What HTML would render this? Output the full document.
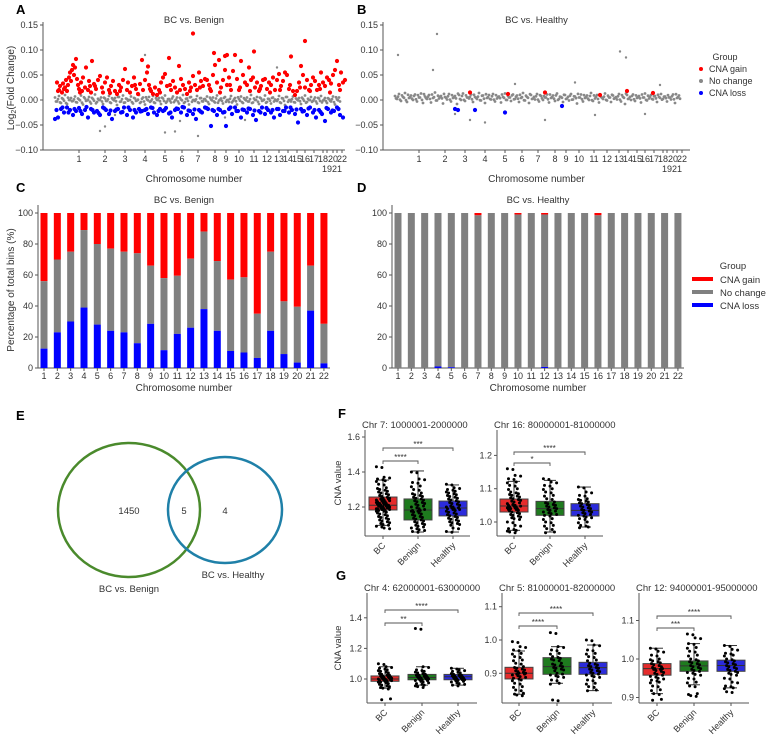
<!DOCTYPE html>
<html><head><meta charset="utf-8"><style>
html,body{margin:0;padding:0;background:#fff;}
svg{display:block;font-family:"Liberation Sans",Arial,sans-serif;}
</style></head><body>
<svg id="fig" width="778" height="739" viewBox="0 0 778 739"></svg>
<script>
// ---------- Panel A/B data (pos = genome index, value in 1/1000 log2 FC) ----------
const chrLabels = ["1","2","3","4","5","6","7","8","9","10","11","12","13","14","15","16","17","18","19","20","21","22"];
const chrCenters = [24,50,70,90,110,127,143,160,171,184,199,212,224,233,242,250,259,268,272,278,282,287];
const yTicksAB = [0.15,0.10,0.05,0.00,-0.05,-0.10];
const redA = [[2,35],[4,20],[5,28],[7,15],[8,33],[10,25],[11,40],[12,18],[13,30],[14,45],[15,55],[16,38],[17,60],[18,70],[19,50],[20,65],[21,82],[22,42],[23,30],[24,22],[26,35],[27,18],[28,45],[30,25],[31,65],[33,20],[34,38],[35,28],[36,15],[37,78],[39,32],[41,22],[43,40],[45,48],[47,25],[48,15],[50,35],[52,45],[54,20],[56,28],[58,38],[60,18],[62,12],[64,30],[66,25],[68,40],[70,62],[72,20],[73,35],[75,15],[77,28],[79,45],[81,22],[83,12],[85,32],[87,80],[88,20],[90,40],[92,55],[93,67],[94,30],[96,18],[98,12],[100,25],[102,10],[104,20],[106,35],[108,45],[110,52],[112,28],[114,84],[116,20],[118,38],[120,25],[122,15],[124,68],[126,42],[128,30],[130,22],[132,12],[134,35],[136,25],[138,48],[140,30],[142,20],[144,55],[146,38],[148,28],[150,42],[152,40],[154,30],[156,18],[158,50],[160,70],[162,35],[164,80],[166,25],[168,40],[170,60],[172,30],[174,45],[176,20],[178,58],[180,90],[182,42],[184,20],[186,78],[188,50],[190,35],[192,30],[194,65],[196,40],[198,45],[200,25],[202,35],[204,18],[206,28],[208,40],[210,42],[212,22],[214,35],[216,30],[218,45],[220,20],[222,40],[224,52],[226,28],[228,38],[230,55],[232,50],[234,22],[236,87],[238,18],[240,10],[242,18],[244,35],[246,68],[248,50],[250,25],[252,40],[254,20],[256,30],[258,45],[260,38],[262,20],[264,30],[266,55],[268,35],[270,28],[272,45],[274,40],[276,33],[278,50],[280,60],[282,78],[284,30],[286,55],[288,35],[290,40],[138,133],[250,118],[199,97],[159,94],[170,88],[172,90],[3,18],[9,22],[25,15],[40,28],[55,14],[65,18],[80,30],[95,22],[105,15],[115,30],[125,20],[135,18],[145,25],[155,22],[165,15],[175,30],[185,25],[195,18],[205,22],[215,15],[225,20],[235,30],[245,25],[255,18],[265,22],[275,15],[285,20]];
const blueA = [-38,-35,-18,-25,-15,-20,-30,-22,-16,-28,-20,-35,-18,-25,-22,-30,-15,-20,-28,-38,-22,-18,-25,-15,-30,-20,-35,-25,-18,-22,-20,-28,-15,-25,-30,-18,-22,-16,-27,-35,-20,-18,-25,-15,-30,-22,-28,-38,-20,-25,-15,-18,-52,-22,-30,-20,-25,-52,-18,-28,-15,-22,-35,-20,-25,-18,-30,-40,-22,-15,-28,-20,-25,-35,-18,-30,-22,-15,-25,-20,-28,-45,-18,-22,-30,-15,-25,-35,-20,-28,-42,-18,-25,-22,-15,-30,-35];
const blueA2 = [-20,-15,-25,-18,-22,-14,-20,-26,-17,-21,-19,-24,-15,-20,-23,-18,-16,-22,-20,-25,-17,-14,-21,-19,-23,-16,-20,-18,-24,-15,-22,-19,-17,-21,-25,-16,-20,-18,-22,-15,-19,-23,-17,-20,-24,-16,-21,-18];
const grayA = [5,-3,8,-6,2,10,-8,0,4,-2,7,-5,1,9,-9,3,-1,6,-7,2,11,-4,0,5,-8,3,-2,8,-6,1,4,-10,6,-3,9,-5,2,0,7,-7,3,-1,10,-4,5,-9,1,6,-2,8,-6,0,4,-8,3,9,-3,2,-5,7,-1,5,-7,1,10,-4,3,-9,6,0,-2,8,-6,4,-3,2,7,-8,1,5,-5,9,-1,3,-7,6,0,-4,8,-2,4,-9,2,7,-6,1,5,-3,10,-5,0,6,-8,3,-1,9,-4,2,-7,5,1,-2,8,-6,3,-10,6,0,-3,7,-5,1,4,-8,2,9,-4,0,6,-2,5,-7,3,8,-1,4,-6,2,-3,7,-9,1,5];
const grayAout = [[45,-62],[50,-53],[90,90],[110,-65],[120,-63],[143,-72],[125,-42],[222,65],[190,-40],[60,-30],[170,-35]];
const grayB = [8,2,12,-2,6,14,-4,4,9,0,11,-3,5,13,-6,7,2,10,-5,4,15,-1,3,8,-7,6,1,12,-3,4,8,-8,10,0,13,-2,5,3,11,-4,6,2,14,-1,9,-6,4,10,1,12,-3,3,7,-5,6,13,0,5,-2,11,2,9,-4,4,14,-1,6,-6,10,3,1,12,-3,8,0,5,11,-5,4,9,-2,13,2,6,-4,10,3,-1,12,1,7,-7,5,11,-3,4,9,0,14,-2,3,10,-5,6,2,13,-1,5,-4,9,4,1,12,-3,6,-8,10,3,0,11,-2,4,8,-5,5,13,-1,3,10,1,8,-4,6,12,2,7,-3,5,1,11,-6,4,9];
const grayBout = [[3,90],[38,60],[42,132],[75,-40],[90,-45],[225,97],[231,85],[150,-40],[180,35],[265,30],[200,-30],[120,32],[250,-28],[60,-28]];
const redB = [[75,15],[113,12],[150,15],[205,10],[232,18],[258,14]];
const blueB = [[60,-18],[63,-20],[80,-20],[167,-12],[110,-25]];

// ---------- Panel C/D data (percent) ----------
const chrC = ["1","2","3","4","5","6","7","8","9","10","11","12","13","14","15","16","17","18","19","20","21","22"];
const lossC = [12.5,23,30,39,28,24,23,16,28.5,11.5,22,26,38,24,11,10,6.5,24,9,3.5,37,3];
const noChangeC = [43.5,47,45,50,52,53,52,58,37.5,46.5,37.5,44.5,50,45,46,48.5,28.5,51,34,36,29,25.5];
const lossD = [0,0,0,1,0.5,0,0,0,0,0,0,0.7,0,0,0,0,0,0,0,0,0,0];
const gainD = [0,0,0,0,0,0,1.5,0,0,1,0,1,0,0,0,1.5,0,0,0,0,0,0];
const yTicksCD = [0,20,40,60,80,100];

// ---------- Panel F/G data ----------
const boxGroups = ["BC","Benign","Healthy"];
const f1Stats = [[1.095,1.183,1.21,1.257,1.354],[1.057,1.126,1.183,1.246,1.406],[1.057,1.149,1.194,1.234,1.326]];
const f1Pts = [[1.43,1.37,1.36,1.35,1.33,1.31,1.30,1.29,1.28,1.27,1.26,1.25,1.25,1.24,1.24,1.23,1.23,1.22,1.22,1.22,1.21,1.21,1.21,1.20,1.20,1.20,1.19,1.19,1.19,1.18,1.18,1.17,1.16,1.15,1.14,1.13,1.12,1.11,1.10,1.09,1.08],[1.40,1.36,1.34,1.32,1.30,1.28,1.27,1.26,1.25,1.24,1.23,1.22,1.21,1.20,1.19,1.18,1.18,1.17,1.16,1.15,1.14,1.13,1.12,1.11,1.10,1.09,1.08,1.07,1.06],[1.33,1.31,1.30,1.29,1.28,1.27,1.26,1.25,1.24,1.23,1.22,1.21,1.20,1.20,1.19,1.19,1.18,1.17,1.16,1.15,1.14,1.13,1.12,1.11,1.10,1.08,1.06]];
const f2Stats = [[0.975,1.030,1.048,1.069,1.122],[0.970,1.020,1.040,1.062,1.125],[0.985,1.018,1.035,1.055,1.105]];
const f2Pts = [[1.16,1.14,1.13,1.12,1.11,1.10,1.09,1.085,1.08,1.075,1.07,1.065,1.06,1.055,1.05,1.05,1.045,1.045,1.04,1.04,1.035,1.03,1.025,1.02,1.015,1.01,1.0,0.99,0.98,0.975,0.97],[1.13,1.12,1.11,1.10,1.09,1.08,1.07,1.06,1.055,1.05,1.045,1.04,1.035,1.03,1.025,1.02,1.01,1.0,0.99,0.98,0.97],[1.105,1.09,1.08,1.07,1.065,1.06,1.055,1.05,1.045,1.04,1.035,1.03,1.025,1.02,1.015,1.01,1.0,0.99,0.985]];
const g1Stats = [[0.94,0.985,1.0,1.02,1.08],[0.96,0.995,1.01,1.03,1.08],[0.96,0.995,1.015,1.03,1.07]];
const g1Pts = [[1.10,1.08,1.07,1.06,1.05,1.04,1.03,1.025,1.02,1.015,1.01,1.005,1.0,1.0,0.995,0.99,0.985,0.98,0.97,0.96,0.95,0.94,0.87],[1.33,1.08,1.06,1.05,1.04,1.03,1.025,1.02,1.015,1.01,1.005,1.0,0.995,0.99,0.98,0.97,0.96,0.95],[1.07,1.06,1.05,1.04,1.03,1.025,1.02,1.015,1.01,1.005,1.0,0.995,0.99,0.98,0.97,0.96]];
const g2Stats = [[0.837,0.883,0.9,0.918,0.967],[0.87,0.897,0.92,0.947,0.98],[0.848,0.897,0.917,0.933,0.985]];
const g2Pts = [[0.995,0.98,0.97,0.96,0.95,0.94,0.93,0.92,0.915,0.91,0.905,0.9,0.9,0.895,0.89,0.885,0.88,0.87,0.86,0.85,0.84,0.835],[1.022,0.98,0.97,0.96,0.95,0.945,0.94,0.93,0.925,0.92,0.915,0.91,0.9,0.895,0.89,0.88,0.87,0.82],[1.0,0.985,0.97,0.96,0.95,0.94,0.93,0.925,0.92,0.915,0.91,0.905,0.9,0.895,0.89,0.88,0.87,0.86,0.85]];
const g3Stats = [[0.91,0.958,0.975,0.988,1.028],[0.933,0.968,0.982,0.995,1.04],[0.925,0.968,0.983,0.997,1.035]];
const g3Pts = [[1.028,1.02,1.01,1.0,0.995,0.99,0.985,0.98,0.975,0.975,0.97,0.965,0.96,0.955,0.95,0.945,0.94,0.93,0.92,0.91,0.895],[1.065,1.055,1.04,1.03,1.02,1.01,1.0,0.995,0.99,0.985,0.98,0.975,0.97,0.965,0.96,0.95,0.94,0.93,0.91,0.905],[1.035,1.025,1.015,1.01,1.0,0.995,0.99,0.985,0.98,0.975,0.97,0.965,0.96,0.95,0.94,0.93,0.925,0.915]];

const NS = "http://www.w3.org/2000/svg";
const svg = document.getElementById("fig");
const TXT = "#333", AX = "#555";
function mk(tag, attrs, name, parent){
  const el = document.createElementNS(NS, tag);
  for (const k in attrs) el.setAttribute(k, attrs[k]);
  
  
  (parent||svg).appendChild(el);
  return el;
}
function txt(x,y,s,size,anchor,name,extra){
  const a = {x:x,y:y,'font-size':size,'text-anchor':anchor||'middle',fill:TXT};
  if (extra) for (const k in extra) a[k]=extra[k];
  const t = mk('text', a, name);
  t.textContent = s;
  return t;
}
function ln(x1,y1,x2,y2,c,w,name){ return mk('line',{x1:x1,y1:y1,x2:x2,y2:y2,stroke:c,'stroke-width':w},name); }
function fmt(v,d){ const s=Math.abs(v).toFixed(d); return (v<0?"\u2212":"")+s; }

// panel letters
[["A",16,14],["B",357,14],["C",16,192],["D",357,192],["E",16,420],["F",338,418],["G",336,580]].forEach(p=>{
  txt(p[1],p[2],p[0],13,'start','panel-label-'+p[0].toLowerCase(),{'font-weight':'bold',fill:'#000'});
});

// ---------- Manhattan panels ----------
function manhattan(ox, axRight, title, key, reds, blues, blues2, grays, grayOut, isB){
  const yS = v => 100 - v*500;
  const xS = p => ox + 12 + p;
  ln(ox,22,ox,150,AX,1,key+'-y-axis');
  ln(ox,150,axRight,150,AX,1,key+'-x-axis');
  yTicksAB.forEach(t=>{
    ln(ox-3,yS(t),ox,yS(t),AX,1,key+'-y-tick');
    txt(ox-5,yS(t)+3,fmt(t,2),9,'end',key+'-y-tick-label');
  });
  chrLabels.forEach((c,i)=>{
    const x = xS(chrCenters[i]);
    ln(x,150,x,153,AX,1,key+'-x-tick');
    const second = (c==="19"||c==="21");
    txt(x,second?172:162,c,9,'middle',key+'-x-tick-label');
  });
  txt(ox+(axRight-ox)/2,23,title,9.5,'middle',key+'-title');
  txt(ox+(axRight-ox)/2,182,"Chromosome number",10,'middle',key+'-x-axis-title');
  grays.forEach((v,i)=>{ const p=i*2; mk('circle',{cx:xS(p),cy:yS(v/1000),r:1.4,fill:'#888'},key+'-point-nochange'); });
  grays.forEach((v,i)=>{ const p=i*2+1; mk('circle',{cx:xS(p),cy:yS((-v*0.6+ (isB?8:0))/1000),r:1.4,fill:'#888'},key+'-point-nochange'); });
  grayOut.forEach(d=>{ mk('circle',{cx:xS(d[0]),cy:yS(d[1]/1000),r:1.2,fill:'#888'},key+'-point-nochange'); });
  blues.forEach((v,i)=>{ mk('circle',{cx:xS(i*3),cy:yS(v/1000),r:2.1,fill:'#0000ff'},key+'-point-loss'); });
  blues2.forEach((v,i)=>{ mk('circle',{cx:xS(i*6+1.5),cy:yS(v/1000),r:2.1,fill:'#0000ff'},key+'-point-loss'); });
  reds.forEach(d=>{ mk('circle',{cx:xS(d[0]),cy:yS(d[1]/1000),r:2.1,fill:'#ff0000'},key+'-point-gain'); });
}
manhattan(43,345,"BC vs. Benign","panel-a",redA,blueA,blueA2,grayA,grayAout,false);
{
  const t = mk('text',{x:0,y:0,'font-size':10,'text-anchor':'middle',fill:TXT,transform:'translate(14,88) rotate(-90)'},'panel-a-y-axis-title');
  t.innerHTML = 'Log<tspan font-size="7" dy="2">2</tspan><tspan dy="-2">(Fold Change)</tspan>';
}
manhattan(383,690,"BC vs. Healthy","panel-b",[],[],[],grayB,grayBout,true);
blueB.forEach(d=>{ mk('circle',{cx:395+d[0],cy:100-d[1]/2,r:2.1,fill:'#0000ff'},'panel-b-point-loss'); });
redB.forEach(d=>{ mk('circle',{cx:395+d[0],cy:100-d[1]/2,r:2.1,fill:'#ff0000'},'panel-b-point-gain'); });
txt(725,60,"Group",9,'middle','legend-ab-title');
[["CNA gain","#ff0000",72],["No change","#888",84],["CNA loss","#0000ff",96]].forEach(l=>{
  mk('circle',{cx:701,cy:l[2]-3,r:2,fill:l[1]},'legend-ab-marker');
  txt(709,l[2],l[0],9,'start','legend-ab-entry');
});

// ---------- stacked bars ----------
function stacked(ox, axRight, x0, title, key, loss, nochg){
  const yS = v => 368 - v*1.55;
  const xS = i => x0 + i*13.33;
  ln(ox,205,ox,368,AX,1,key+'-y-axis');
  ln(ox,368,axRight,368,AX,1,key+'-x-axis');
  yTicksCD.forEach(t=>{
    ln(ox-3,yS(t),ox,yS(t),AX,1,key+'-y-tick');
    txt(ox-5,yS(t)+3,String(t),9,'end',key+'-y-tick-label');
  });
  chrC.forEach((c,i)=>{
    const x=xS(i), l=loss[i], n=nochg[i];
    mk('rect',{x:x-3.5,y:yS(100),width:7,height:yS(l+n)-yS(100),fill:'#ff0000'},key+'-bar-gain-'+c);
    mk('rect',{x:x-3.5,y:yS(l+n),width:7,height:yS(l)-yS(l+n),fill:'#808080'},key+'-bar-nochange-'+c);
    mk('rect',{x:x-3.5,y:yS(l),width:7,height:yS(0)-yS(l),fill:'#0000ff'},key+'-bar-loss-'+c);
    ln(x,368,x,371,AX,1,key+'-x-tick');
    txt(x,379,c,9,'middle',key+'-x-tick-label');
  });
  txt(ox+(axRight-ox)/2,203,title,9.5,'middle',key+'-title');
  txt(ox+(axRight-ox)/2,391,"Chromosome number",10,'middle',key+'-x-axis-title');
}
stacked(38,330,44,"BC vs. Benign","panel-c",lossC,noChangeC);
stacked(392,684,398,"BC vs. Healthy","panel-d",lossD,lossD.map((l,i)=>100-l-gainD[i]));
mk('text',{x:0,y:0,'font-size':10,'text-anchor':'middle',fill:TXT,transform:'translate(14,290) rotate(-90)'},'panel-c-y-axis-title').textContent="Percentage of total bins (%)";
txt(733,269,"Group",9.5,'middle','legend-cd-title');
[["CNA gain","#ff0000",279],["No change","#808080",292],["CNA loss","#0000ff",305]].forEach(l=>{
  ln(692,l[2],713,l[2],l[1],4,'legend-cd-swatch');
  txt(720,l[2]+4,l[0],9.5,'start','legend-cd-entry');
});

// ---------- Venn ----------
mk('ellipse',{cx:129,cy:510,rx:71,ry:67,fill:'none',stroke:'#4a8a2c','stroke-width':2.5},'venn-circle-bc-benign');
mk('ellipse',{cx:225,cy:510,rx:57,ry:53,fill:'none',stroke:'#1f80a8','stroke-width':2.5},'venn-circle-bc-healthy');
txt(129,514,"1450",9.5,'middle','venn-count-benign-only');
txt(184,514,"5",9.5,'middle','venn-count-overlap');
txt(225,514,"4",9.5,'middle','venn-count-healthy-only');
txt(129,592,"BC vs. Benign",9.5,'middle','venn-label-benign');
txt(233,578,"BC vs. Healthy",9.5,'middle','venn-label-healthy');

// ---------- box plots ----------
const boxCols = ['#e52b2b','#1e7b1e','#2b2bdc'];
function boxplot(cfg){
  const k=cfg.key;
  const yS = v => cfg.y0 - (v-cfg.v0)*cfg.ppu;
  ln(cfg.left,cfg.top,cfg.left,cfg.bottom,AX,1,k+'-y-axis');
  ln(cfg.left,cfg.bottom,cfg.right,cfg.bottom,AX,1,k+'-x-axis');
  cfg.ticks.forEach(t=>{
    ln(cfg.left-3,yS(t),cfg.left,yS(t),AX,1,k+'-y-tick');
    txt(cfg.left-5,yS(t)+3,t.toFixed(1),9,'end',k+'-y-tick-label');
  });
  txt(cfg.left-3,cfg.titleY,cfg.title,9.5,'start',k+'-title');
  boxGroups.forEach((g,i)=>{
    const x=cfg.xs[i], s=cfg.stats[i];
    ln(x,yS(s[4]),x,yS(s[0]),'#333',1,k+'-whisker-'+g.toLowerCase());
    ln(x-6,yS(s[4]),x+6,yS(s[4]),'#333',1,k+'-whisker-cap');
    ln(x-6,yS(s[0]),x+6,yS(s[0]),'#333',1,k+'-whisker-cap');
    mk('rect',{x:x-14,y:yS(s[3]),width:28,height:yS(s[1])-yS(s[3]),fill:boxCols[i],stroke:'#444','stroke-width':1},k+'-box-'+g.toLowerCase());
    ln(x-14,yS(s[2]),x+14,yS(s[2]),'#333',1,k+'-median-'+g.toLowerCase());
    cfg.pts[i].forEach((v,j)=>{
      for(let r=0;r<2;r++){
        const off=(((j*7+r*5)%13)-6)*1.1;
        mk('circle',{cx:x+off,cy:yS(v)+(r?0.8:0),r:1.5,fill:'#000'},k+'-point-'+g.toLowerCase());
      }
    });
    ln(x,cfg.bottom,x,cfg.bottom+3,AX,1,k+'-x-tick');
    mk('text',{x:x+3,y:cfg.bottom+10,'font-size':9,'text-anchor':'end',fill:TXT,transform:'rotate(-45 '+(x+3)+' '+(cfg.bottom+10)+')'},k+'-x-tick-label').textContent=g;
  });
  cfg.sigs.forEach(sg=>{
    const xa=cfg.xs[sg[0]], xb=cfg.xs[sg[1]], y=sg[2];
    mk('path',{d:'M'+xa+' '+(y+3)+'V'+y+'H'+xb+'V'+(y+3),fill:'none',stroke:'#555','stroke-width':0.9},k+'-sig-bracket');
    txt((xa+xb)/2,y-1,sg[3],8,'middle',k+'-sig-label');
  });
}
boxplot({key:'panel-f-chr7',left:365,right:470,top:430,bottom:536,v0:1.2,y0:507,ppu:175,ticks:[1.2,1.4,1.6],xs:[383,418,453],stats:f1Stats,pts:f1Pts,title:"Chr 7: 1000001-2000000",titleY:428,sigs:[[0,1,461,"****"],[0,2,448,"***"]]});
boxplot({key:'panel-f-chr16',left:497,right:603,top:430,bottom:536,v0:1.0,y0:522,ppu:333,ticks:[1.0,1.1,1.2],xs:[514,550,585],stats:f2Stats,pts:f2Pts,title:"Chr 16: 80000001-81000000",titleY:428,sigs:[[0,1,463,"*"],[0,2,452,"****"]]});
boxplot({key:'panel-g-chr4',left:367,right:477,top:593,bottom:703,v0:1.0,y0:679,ppu:153,ticks:[1.0,1.2,1.4],xs:[385,422,458],stats:g1Stats,pts:g1Pts,title:"Chr 4: 62000001-63000000",titleY:591,sigs:[[0,1,623,"**"],[0,2,610,"****"]]});
boxplot({key:'panel-g-chr5',left:502,right:612,top:593,bottom:703,v0:1.0,y0:640,ppu:333,ticks:[0.9,1.0,1.1],xs:[519,557,593],stats:g2Stats,pts:g2Pts,title:"Chr 5: 81000001-82000000",titleY:591,sigs:[[0,1,626,"****"],[0,2,613,"****"]]});
boxplot({key:'panel-g-chr12',left:639,right:749,top:593,bottom:703,v0:1.0,y0:659,ppu:385,ticks:[0.9,1.0,1.1],xs:[657,694,731],stats:g3Stats,pts:g3Pts,title:"Chr 12: 94000001-95000000",titleY:591,sigs:[[0,1,628,"***"],[0,2,616,"****"]]});
mk('text',{x:0,y:0,'font-size':9.5,'text-anchor':'middle',fill:TXT,transform:'translate(341,483) rotate(-90)'},'panel-f-y-axis-title').textContent="CNA value";
mk('text',{x:0,y:0,'font-size':9.5,'text-anchor':'middle',fill:TXT,transform:'translate(341,648) rotate(-90)'},'panel-g-y-axis-title').textContent="CNA value";
</script>
</body></html>
